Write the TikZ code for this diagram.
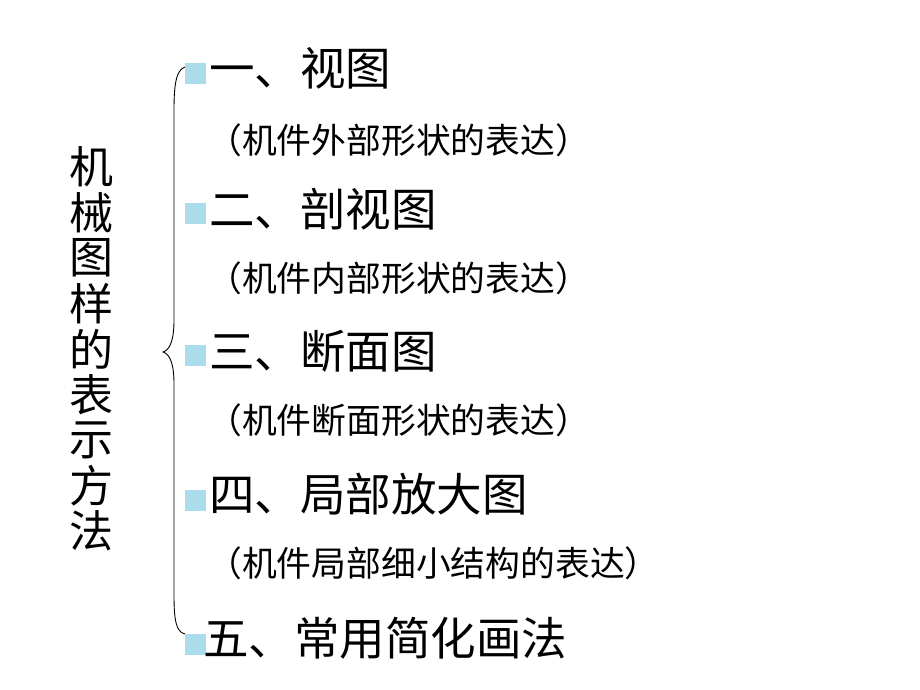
\documentclass[tikz,border=0pt]{standalone}
\usepackage{fontspec}
\newfontfamily\cjk{Noto Sans CJK SC}
\definecolor{bulletblue}{HTML}{AADCEB}
\begin{document}
\begin{tikzpicture}[x=1pt,y=-1pt,
  head/.style={anchor=base west,inner sep=0pt,font=\cjk\fontsize{45.5}{45.5}\selectfont},
  sub/.style={anchor=base west,inner sep=0pt,font=\cjk\fontsize{34.8}{34.8}\selectfont},
  side/.style={anchor=center,inner sep=0pt,font=\cjk\fontsize{44}{44}\selectfont},
  bul/.style={fill=bulletblue,draw=none,minimum width=21pt,minimum height=21pt,inner sep=0pt,anchor=north west},
  brace/.style={draw=black,line width=0.9pt}]
\useasboundingbox (0,0) rectangle (920,690);
\fill[white] (0,0) rectangle (920,690);
% side title
\node[side] (s1) at (91,167) {机};
\node[side] (s2) at (91,212.5) {械};
\node[side] (s3) at (91,258) {图};
\node[side] (s4) at (91,303.5) {样};
\node[side] (s5) at (91,349) {的};
\node[side] (s6) at (91,394.5) {表};
\node[side] (s7) at (91,440) {示};
\node[side] (s8) at (91,485.5) {方};
\node[side] (s9) at (91,531) {法};
% brace
\coordinate (bt) at (185,67);
\coordinate (bm) at (163,352);
\coordinate (bb) at (185,634);
\draw[brace] (bt) .. controls (176,70) and (174,85) .. (174,110)
  -- (174,320) .. controls (174,340) and (170,350) .. (bm)
  .. controls (170,354) and (174,364) .. (174,384)
  -- (174,595) .. controls (174,620) and (176,632) .. (bb);
% bullets
\node[bul] (b1) at (185,63) {};
\node[bul] (b2) at (185,203) {};
\node[bul] (b3) at (185,345) {};
\node[bul] (b4) at (185,490) {};
\node[bul] (b5) at (185,634) {};
% headings
\node[head] (h1) at (209,86) {一、视图};
\node[sub] (t1) at (207,153) {（机件外部形状的表达）};
\node[head] (h2) at (209,226) {二、剖视图};
\node[sub] (t2) at (207,291) {（机件内部形状的表达）};
\node[head] (h3) at (209,368) {三、断面图};
\node[sub] (t3) at (207,433) {（机件断面形状的表达）};
\node[head] (h4) at (209,511) {四、局部放大图};
\node[sub] (t4) at (207,576) {（机件局部细小结构的表达）};
\node[head] (h5) at (203,655) {五、常用简化画法};
\end{tikzpicture}
\end{document}
